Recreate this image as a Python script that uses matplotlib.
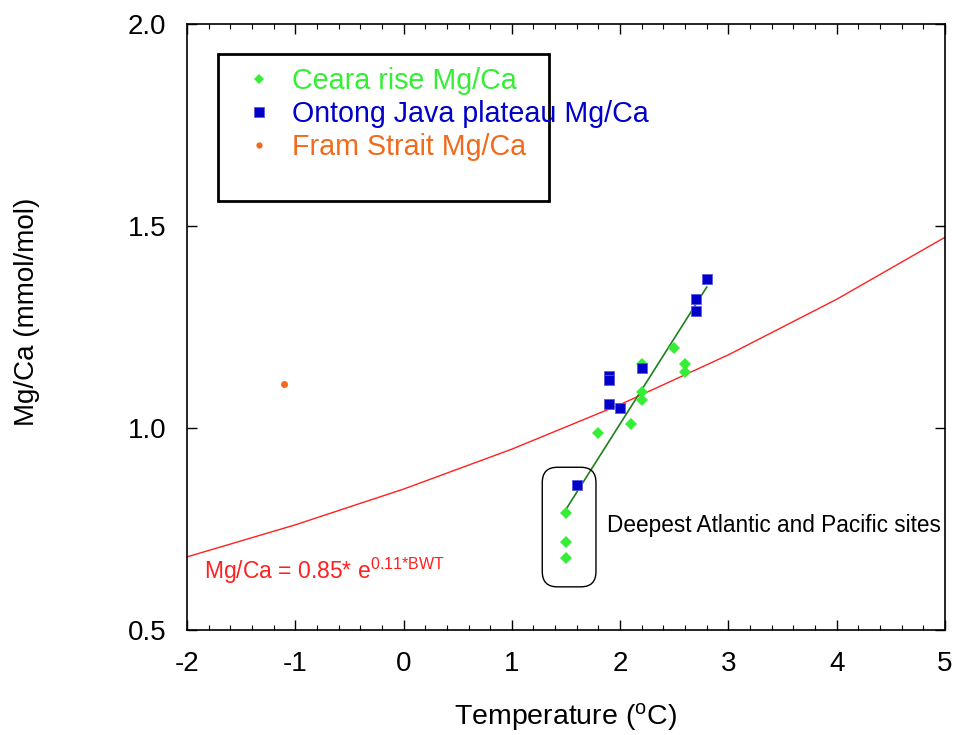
import matplotlib

matplotlib.use("Agg")

import matplotlib.pyplot as plt
import numpy as np
from matplotlib.patches import FancyBboxPatch, Rectangle
from matplotlib.ticker import FormatStrFormatter, MultipleLocator

plt.rcParams["font.family"] = ["Liberation Sans", "DejaVu Sans"]
plt.rcParams["mathtext.default"] = "regular"
plt.rcParams["axes.unicode_minus"] = False

# Ceara rise core tops
ceara_temp = [2.5, 2.6, 2.6, 2.2, 2.2, 2.2, 2.1, 1.8, 1.5, 1.5, 1.5]
ceara_mgca = [1.20, 1.16, 1.14, 1.16, 1.09, 1.07, 1.01, 0.99, 0.79, 0.72, 0.68]

# Ontong Java plateau core tops
ontong_temp = [2.8, 2.7, 2.7, 2.2, 1.9, 1.9, 1.9, 2.0, 1.6]
ontong_mgca = [1.37, 1.32, 1.29, 1.15, 1.13, 1.12, 1.06, 1.05, 0.86]

# Fram Strait
fram_temp = [-1.1]
fram_mgca = [1.11]

# linear trend through the Atlantic and Pacific sites
fit_temp = [1.5, 2.8]
fit_mgca = [0.80, 1.35]

# exponential calibration, Mg/Ca = 0.85 * exp(0.11 * BWT)
calib_a = 0.85
calib_b = 0.11
calib_temp = np.arange(-2, 6)

GREEN = "#36ee36"
BLUE = "#0000c8"
ORANGE = "#f26a1b"

fig = plt.figure(figsize=(9.55, 7.35), dpi=100)
ax = fig.add_axes([0.1958, 0.1422, 0.7937, 0.8245])

ax.plot(calib_temp, calib_a * np.exp(calib_b * calib_temp), color="#ff2020", linewidth=1.0, zorder=2)
ax.plot(fit_temp, fit_mgca, color="#1f7f1f", linewidth=1.2, zorder=3)

ax.plot(ceara_temp, ceara_mgca, linestyle="none", marker="D", markersize=6,
        color=GREEN, markeredgewidth=0, label="Ceara rise Mg/Ca", zorder=4)
ax.plot(ontong_temp, ontong_mgca, linestyle="none", marker="s", markersize=7.6,
        markerfacecolor=BLUE, markeredgecolor="#5a5ae0", markeredgewidth=0.6,
        label="Ontong Java plateau Mg/Ca", zorder=5)
ax.plot(fram_temp, fram_mgca, linestyle="none", marker="o", markersize=5,
        color=ORANGE, markeredgewidth=0, label="Fram Strait Mg/Ca", zorder=4)

# rounded outline around the deepest sites
outline = FancyBboxPatch((1.281, 0.608), 0.496, 0.296,
                         boxstyle="round,pad=0,rounding_size=0.14",
                         mutation_aspect=0.27, facecolor="none",
                         edgecolor="black", linewidth=1.0, zorder=6)
ax.add_patch(outline)
ax.text(1.88, 0.761, "Deepest Atlantic and Pacific sites", fontsize=16.3,
        va="center", ha="left")

ax.text(-1.843, 0.627, r"Mg/Ca = 0.85* e$^{0.11{*}BWT}$", fontsize=16.5,
        color="#ff2020", ha="left", va="baseline")

ax.set_xlim(-2, 5)
ax.set_ylim(0.5, 2.0)
ax.xaxis.set_major_locator(MultipleLocator(1))
ax.xaxis.set_minor_locator(MultipleLocator(0.2))
ax.yaxis.set_major_locator(MultipleLocator(0.5))
ax.yaxis.set_major_formatter(FormatStrFormatter("%.1f"))

ax.tick_params(which="both", direction="in", top=True, right=True, labelsize=20, pad=15)
ax.tick_params(which="major", length=7, width=1)
ax.tick_params(which="minor", length=3.5, width=0.8)
for spine in ax.spines.values():
    spine.set_linewidth(1.2)

ax.set_xlabel("Temperature ($^{o}$C)", fontsize=20.5, labelpad=17)
ax.set_ylabel("Mg/Ca (mmol/mol)", fontsize=20)
ax.yaxis.set_label_coords(-0.194, 0.526)

# legend frame drawn as a separate box
frame = Rectangle((0.041, 0.709), 0.4366, 0.242, transform=ax.transAxes,
                  facecolor="white", edgecolor="black", linewidth=2, zorder=7)
ax.add_patch(frame)
handles, labels = ax.get_legend_handles_labels()
legend = ax.legend(handles, labels, loc="upper left", bbox_to_anchor=(0.0614, 0.948),
                   frameon=False, fontsize=20.6, labelcolor=[GREEN, BLUE, ORANGE],
                   handlelength=1.0, handletextpad=0.65, labelspacing=0.17,
                   borderaxespad=0, markerscale=0.9)
legend.set_zorder(8)

fig.savefig("out.png", dpi=100, facecolor="white")
